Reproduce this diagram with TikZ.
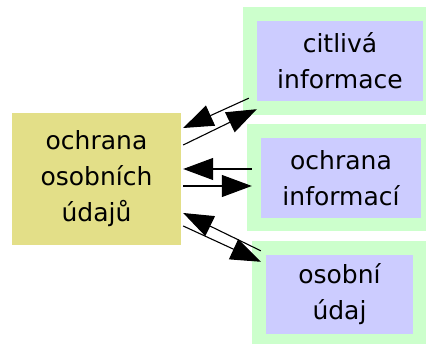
\documentclass[tikz,border=0pt]{standalone}
\usepackage{fontspec}
\setmainfont{DejaVu Sans}
\usetikzlibrary{arrows.meta,calc}
\definecolor{framegreen}{RGB}{204,255,204}
\definecolor{topicblue}{RGB}{204,204,255}
\definecolor{coreyellow}{RGB}{227,223,136}
\begin{document}
\begin{tikzpicture}[x=1pt,y=1pt,
  label text/.style={inner sep=0pt, align=center, font=\fontsize{25}{36}\selectfont},
  frame/.style={fill=framegreen, inner sep=0pt},
  topic/.style={label text, fill=topicblue},
  core/.style={label text, fill=coreyellow},
  link/.style={line width=1.1pt, -{Triangle[length=30pt,width=22pt]}}]
\useasboundingbox (0,0) rectangle (426,344);

% outer green frames
\node[frame, minimum width=183, minimum height=108] (G1) at (334.5,283) {};
\node[frame, minimum width=179, minimum height=107] (G2) at (336.5,166.5) {};
\node[frame, minimum width=174, minimum height=103] (G3) at (339,51.5) {};

% topic boxes
\node[topic, minimum width=166, minimum height=80] (B1) at (340,283) {citlivá\\informace};
\node[topic, minimum width=160, minimum height=80] (B2) at (341,166) {ochrana\\informací};
\node[topic, minimum width=147, minimum height=79] (B3) at (339.5,49.5) {osobní\\údaj};

% central box
\node[core, minimum width=169, minimum height=132] (L) at (96.5,165) {ochrana\\osobních\\údajů};

% paired links
\draw[link] ($(G1.south west)+(6,17)$) -- ($(L.east)+(2,51)$);
\draw[link] ($(L.east)+(2,34)$) -- ($(G1.south west)+(14,6)$);
\draw[link] ($(G2.west)+(5,8.5)$) -- ($(L.east)+(2,10)$);
\draw[link] ($(L.east)+(2,-7)$) -- ($(G2.west)+(5,-8.5)$);
\draw[link] ($(G3.north west)+(9,-10)$) -- ($(L.east)+(2,-34)$);
\draw[link] ($(L.east)+(2,-47)$) -- ($(G3.north west)+(9,-21)$);
\end{tikzpicture}
\end{document}
